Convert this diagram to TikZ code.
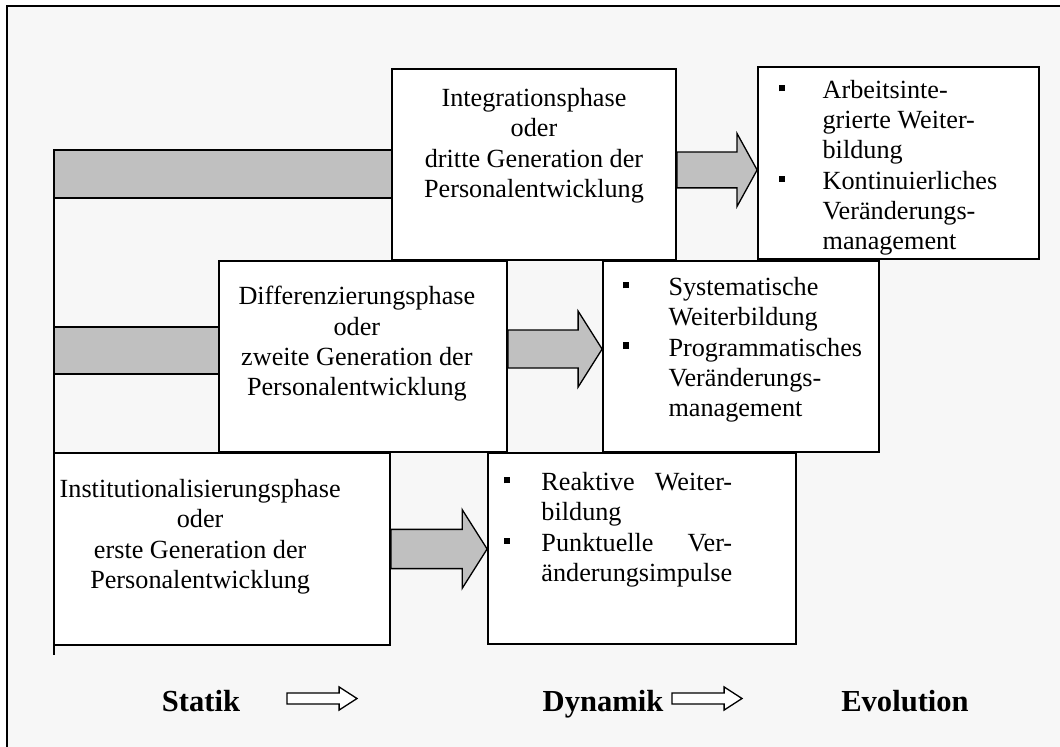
\documentclass[tikz,border=0pt]{standalone}
\usepackage{fontspec}
\usepackage{calc}
\setmainfont{Liberation Serif}
\usetikzlibrary{positioning,fit,calc}

\definecolor{paper}{HTML}{F7F7F7}
\definecolor{bargray}{HTML}{C0C0C0}

% small square bullet, #1 = gap to the text
\newcommand{\itm}[1][17.4pt]{\llap{\rule[3.4pt]{2.8pt}{2.8pt}\hspace{#1}}}
% block arrow: style, from, to, shaft half, head half, head length
\newcommand{\fatarrow}[6]{%
  \draw[#1] let \p1=(#2), \p2=(#3) in
    (\x1,\y1+#4) -- (\x2-#6,\y1+#4) -- (\x2-#6,\y1+#5) -- (\x2,\y1)
    -- (\x2-#6,\y1-#5) -- (\x2-#6,\y1-#4) -- (\x1,\y1-#4) -- cycle;}

\begin{document}
\begin{tikzpicture}[
    x=0.458pt, y=-0.458pt,
    font=\fontsize{12}{13.8}\selectfont,
    phase/.style={draw, fill=white, line width=0.8pt, inner sep=0pt},
    bar/.style={draw, fill=bargray, line width=0.8pt, inner sep=0pt},
    phasetext/.style={align=center, inner sep=0pt},
    listtext/.style={align=left, inner sep=0pt},
    grayarrow/.style={draw, fill=bargray, line width=0.6pt, line join=miter},
    hollowarrow/.style={draw, fill=white, line width=0.6pt, line join=miter},
    axislabel/.style={font=\fontsize{14}{16}\selectfont\bfseries, inner sep=0pt, anchor=base}
]
    \useasboundingbox (0,0) rectangle (1060,747);
    \clip (0,0) rectangle (1060,747);
    \fill[white] (0,0) rectangle (1060,747);
    \draw[fill=paper, line width=1pt] (7,6) rectangle (1080,770);

    % bars behind the phases
    \node[bar, fit={(54,150) (392,198)}] (bar3) {};
    \node[bar, fit={(54,327) (219,374)}] (bar2) {};
    \coordinate (ltop) at (54,150);
    \coordinate (lfoot) at (54,655);
    \draw[line width=0.8pt] (ltop) -- (lfoot);

    % phases
    \node[phase, fit={(392,69) (676,260)}] (intbox) {};
    \node[phase, fit={(758,67) (1039,259)}] (res1) {};
    \node[phase, fit={(219,261) (507,452)}] (diffbox) {};
    \node[phase, fit={(603,261) (879,452)}] (res2) {};
    \node[phase, fit={(54,453) (390,645)}] (instbox) {};
    \node[phase, fit={(488,453) (796,644)}] (res3) {};

    \node[phasetext, below=9.2pt of intbox.north] (inttxt)
        {Integrationsphase\\oder\\dritte Generation der\\Personalentwicklung};
    \node[phasetext, below=11.9pt of diffbox.north, xshift=-2.8pt] (difftxt)
        {Differenzierungsphase\\oder\\zweite Generation der\\Personalentwicklung};
    \node[phasetext, below=12.4pt of instbox.north, xshift=-10pt] (insttxt)
        {Institutionalisierungsphase\\oder\\erste Generation der\\Personalentwicklung};

    \node[listtext, below right=6.4pt and 29.8pt of res1.north west] (list1)
        {\itm Arbeitsinte-\\grierte Weiter-\\bildung\\\itm Kontinuierliches\\Veränderungs-\\management};
    \node[listtext, below right=7.8pt and 30.2pt of res2.north west] (list2)
        {\itm[18pt]Systematische\\Weiterbildung\\\itm[18pt]Programmatisches\\Veränderungs-\\management};
    \node[listtext, below right=9.2pt and 24.7pt of res3.north west] (list3)
        {\itm[14.6pt]\makebox[\widthof{änderungsimpulse}][s]{Reaktive Weiter-}\\bildung\\
         \itm[14.6pt]\makebox[\widthof{änderungsimpulse}][s]{Punktuelle Ver-}\\änderungsimpulse};

    % arrows between phases and results
    \coordinate (a1) at ([yshift=-2.5pt]intbox.east);
    \coordinate (a2) at ([yshift=3.4pt]diffbox.east);
    \coordinate (a3) at (instbox.east);
    \fatarrow{grayarrow}{a1}{res1.west}{8.2pt}{16.7pt}{9.2pt}
    \fatarrow{grayarrow}{a2}{res2.west}{8.7pt}{17.4pt}{11pt}
    \fatarrow{grayarrow}{a3}{res3.west}{9pt}{18pt}{11.4pt}

    % bottom line
    \node[axislabel] (statik) at (201,711) {Statik};
    \node[axislabel] (dynamik) at (603,711) {Dynamik};
    \node[axislabel] (evolution) at (905,711) {Evolution};
    \coordinate (h1s) at (287,698.5);
    \coordinate (h1e) at (357,698.5);
    \coordinate (h2s) at (672,698.5);
    \coordinate (h2e) at (742,698.5);
    \fatarrow{hollowarrow}{h1s}{h1e}{2.5pt}{5.3pt}{8.2pt}
    \fatarrow{hollowarrow}{h2s}{h2e}{2.5pt}{5.3pt}{8.2pt}
\end{tikzpicture}
\end{document}
